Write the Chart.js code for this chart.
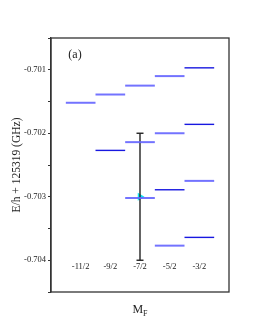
<!DOCTYPE html>
<html>
<head>
<meta charset="utf-8">
<script src="https://cdn.jsdelivr.net/npm/chart.js@4/dist/chart.umd.min.js"></script>
<style>
html,body{margin:0;padding:0;background:#fff;}
#wrap{width:255px;height:330px;}
</style>
</head>
<body>
<div id="wrap"><canvas id="c" width="255" height="330"></canvas></div>
<script>
// M_F values and tick labels
const mF = [-5.5, -4.5, -3.5, -2.5, -1.5];
const mFLabels = ['-11/2', '-9/2', '-7/2', '-5/2', '-3/2'];
// energy levels (GHz, E/h + 125319), light-blue group
const levelsLight = [
  [-0.70152],
  [-0.70139],
  [-0.70125, -0.70214, -0.70302],
  [-0.70110, -0.70200, -0.70377],
  [-0.70275]
];
// energy levels, dark-blue group
const levelsDark = [
  [],
  [-0.70227],
  [],
  [-0.70289],
  [-0.70097, -0.70186, -0.70364]
];
// measured point with error bar
const measuredMF = -3.5;
const measuredE = -0.70300;
const errLow = -0.70400;
const errHigh = -0.70200;
const yTicks = [-0.701, -0.702, -0.703, -0.704];

const datasets = [];
function addLevels(levels, color, width) {
  levels.forEach((arr, i) => {
    arr.forEach(v => {
      datasets.push({
        type: 'line',
        data: [{x: mF[i] - 0.5, y: v}, {x: mF[i] + 0.5, y: v}],
        borderColor: color, borderWidth: width, pointRadius: 0, fill: false
      });
    });
  });
}
addLevels(levelsLight, 'rgba(100,100,255,0.9)', 2);
addLevels(levelsDark, '#1818e0', 1.4);
datasets.push({
  type: 'line',
  data: [{x: measuredMF, y: errLow}, {x: measuredMF, y: errHigh}],
  borderColor: '#222', borderWidth: 1.4,
  pointStyle: 'line', pointRadius: 3.5, pointBorderColor: '#222', pointBorderWidth: 1.4
});
datasets.push({
  type: 'scatter',
  data: [{x: measuredMF, y: measuredE}],
  pointStyle: 'triangle', rotation: 90, pointRadius: 4.5,
  backgroundColor: '#10e6f0', borderColor: '#10e6f0', borderWidth: 0
});

const serif = "'Liberation Serif', 'DejaVu Serif', serif";

const extras = {
  id: 'extras',
  afterDraw(chart) {
    const ctx = chart.ctx, a = chart.chartArea;
    const xs = chart.scales.x, ys = chart.scales.y;
    ctx.save();
    ctx.strokeStyle = '#333';
    ctx.lineWidth = 1.3;
    ctx.strokeRect(a.left, a.top, a.right - a.left, a.bottom - a.top);
    ctx.fillStyle = '#222';
    ctx.font = '8.5px ' + serif;
    ctx.textAlign = 'center';
    ctx.textBaseline = 'middle';
    const ly = ys.getPixelForValue(-0.704) + 6.5;
    mF.forEach((m, i) => ctx.fillText(mFLabels[i], xs.getPixelForValue(m), ly));
    ctx.font = '12px ' + serif;
    ctx.fillText('(a)', a.left + 24, a.top + 17);
    // x axis title M_F
    ctx.font = '12px ' + serif;
    const mw = ctx.measureText('M').width;
    ctx.font = '8px ' + serif;
    const fw = ctx.measureText('F').width;
    const cx = (a.left + a.right) / 2;
    const x0 = cx - (mw + fw) / 2;
    ctx.textAlign = 'left';
    ctx.font = '12px ' + serif;
    ctx.fillText('M', x0, 310);
    ctx.font = '8px ' + serif;
    ctx.fillText('F', x0 + mw, 314);
    ctx.restore();
  }
};

new Chart(document.getElementById('c'), {
  data: {datasets},
  options: {
    responsive: false,
    animation: false,
    devicePixelRatio: 1,
    layout: {padding: {left: 0, top: 38, right: 26, bottom: 38}},
    plugins: {legend: {display: false}, tooltip: {enabled: false}},
    scales: {
      x: {type: 'linear', min: -6.5, max: -0.5, display: false},
      y: {
        type: 'linear', min: -0.7045, max: -0.7005,
        afterFit(s) { s.width = 51; },
        afterBuildTicks(s) {
          const t = [];
          for (let k = 0; k <= 8; k++) t.push({value: -0.7045 + k * 0.0005});
          s.ticks = t;
        },
        ticks: {
          font: {family: serif, size: 8.5}, color: '#222', padding: 2,
          callback(v) {
            const r = Math.round(v * 1000) / 1000;
            return yTicks.some(t => Math.abs(t - v) < 1e-7) ? r.toFixed(3) : '';
          }
        },
        grid: {drawOnChartArea: false, tickLength: 3, color: '#333', lineWidth: 1},
        border: {color: '#333', width: 1.3},
        title: {display: true, text: 'E/h + 125319 (GHz)', font: {family: serif, size: 11.5}, color: '#222', padding: {top: 10, bottom: 0}}
      }
    }
  },
  plugins: [extras]
});
</script>
</body>
</html>
